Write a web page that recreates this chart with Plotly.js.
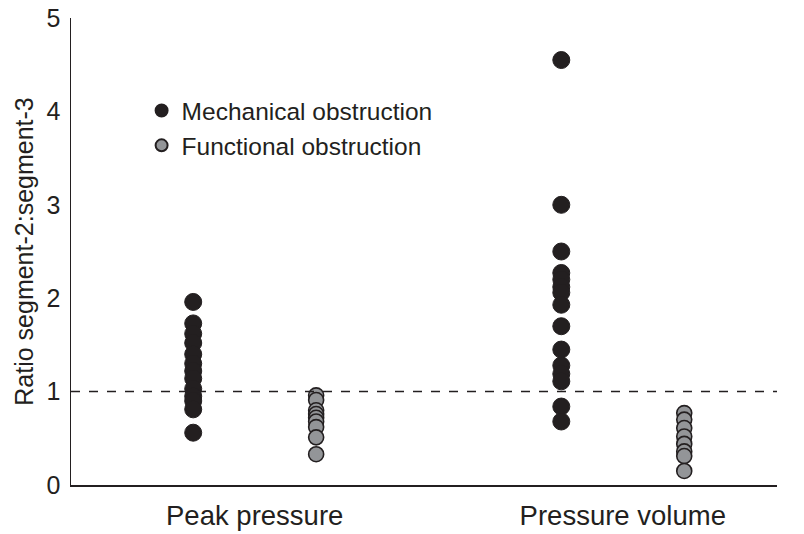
<!DOCTYPE html>
<html>
<head>
<meta charset="utf-8">
<script src="https://cdn.plot.ly/plotly-3.0.1.min.js"></script>
<style>html,body{margin:0;padding:0;background:#fff;}#chart{width:804px;height:534px;}</style>
</head>
<body>
<div id="chart"></div>
<script>
const categories = ["Peak pressure", "Pressure volume"];
const seriesNames = ["Mechanical obstruction", "Functional obstruction"];
const peakMechanical = [1.96, 1.73, 1.62, 1.52, 1.40, 1.30, 1.22, 1.14, 1.03, 0.95, 0.90, 0.81, 0.56];
const peakFunctional = [0.96, 0.91, 0.80, 0.76, 0.72, 0.68, 0.62, 0.51, 0.33];
const volumeMechanical = [4.55, 3.00, 2.50, 2.27, 2.20, 2.12, 2.06, 1.93, 1.70, 1.45, 1.28, 1.19, 1.11, 0.84, 0.68];
const volumeFunctional = [0.77, 0.70, 0.61, 0.52, 0.44, 0.36, 0.31, 0.15];
const yTicks = [0, 1, 2, 3, 4, 5];
const referenceRatio = 1;

const off = 0.167;
function xs(catIndex, n, side) { return Array(n).fill(catIndex + 1 + side * off); }

const mechColor = "#231f20", funcColor = "#939598";
const traces = [
  {
    type: "scatter", mode: "markers", name: seriesNames[0],
    x: xs(0, peakMechanical.length, -1).concat(xs(1, volumeMechanical.length, -1)),
    y: peakMechanical.concat(volumeMechanical),
    marker: {size: 17, color: mechColor, line: {color: mechColor, width: 1}},
    showlegend: true
  },
  {
    type: "scatter", mode: "markers", name: seriesNames[1],
    x: xs(0, peakFunctional.length, 1).concat(xs(1, volumeFunctional.length, 1)),
    y: peakFunctional.concat(volumeFunctional),
    marker: {size: 15, color: funcColor, line: {color: mechColor, width: 1.6}},
    showlegend: true
  }
];

const layout = {
  width: 804, height: 534,
  margin: {l: 71, r: 27, t: 18, b: 49},
  paper_bgcolor: "#fff", plot_bgcolor: "#fff",
  font: {family: "Liberation Sans, Arial, sans-serif", color: "#231f20"},
  showlegend: true,
  legend: {
    x: 0.1, y: 0.85, xanchor: "left", yanchor: "top",
    font: {size: 24.5, color: "#231f20"},
    bgcolor: "rgba(0,0,0,0)", tracegroupgap: 0, itemsizing: "constant", itemwidth: 30
  },
  xaxis: {
    range: [0.501, 2.419], showgrid: false, zeroline: false,
    showline: true, linecolor: "#231f20", linewidth: 1.5,
    tickmode: "array", tickvals: [1, 2], ticktext: categories,
    ticks: "", tickfont: {size: 27.5}, ticklabelstandoff: 5, fixedrange: true
  },
  yaxis: {
    range: [0, 5], showgrid: false, zeroline: false,
    showline: true, linecolor: "#231f20", linewidth: 1.5,
    tickmode: "array", tickvals: yTicks, ticks: "",
    tickfont: {size: 25}, ticklabelstandoff: 4,
    title: {text: "Ratio segment-2:segment-3", font: {size: 25}, standoff: 6}
  },
  shapes: [{
    type: "line", xref: "paper", x0: 0, x1: 1, yref: "y", y0: referenceRatio, y1: referenceRatio,
    line: {color: "#231f20", width: 1.5, dash: "dash"}
  }]
};

Plotly.newPlot("chart", traces, layout, {staticPlot: true, displayModeBar: false});
</script>
</body>
</html>
